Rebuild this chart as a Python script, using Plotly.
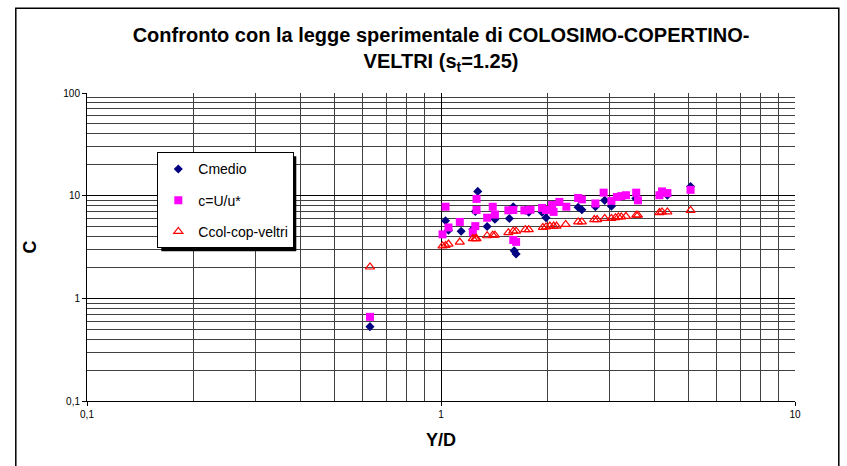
import plotly.graph_objects as go

# ---- data ----
x_cmedio = [0.63, 1.03, 1.05, 1.14, 1.23, 1.25, 1.27, 1.35, 1.42, 1.56, 1.60, 1.61, 1.63,
            1.73, 1.77, 1.93, 1.98, 2.07, 2.44, 2.50, 2.73, 2.90, 3.03, 3.55, 4.36, 5.07]
y_cmedio = [0.53, 5.7, 4.6, 4.5, 4.7, 7.0, 11.0, 5.0, 5.9, 6.0, 7.8, 2.9, 2.7,
            7.2, 6.9, 6.9, 6.1, 8.1, 7.7, 7.3, 7.8, 9.0, 7.9, 9.4, 10.1, 12.3]

x_cu = [0.63, 1.01, 1.03, 1.05, 1.13, 1.23, 1.25, 1.26, 1.26, 1.35, 1.40, 1.42, 1.55, 1.60,
        1.60, 1.63, 1.72, 1.79, 1.93, 1.98, 2.06, 2.08, 2.16, 2.26, 2.44, 2.50, 2.73, 2.88,
        3.03, 3.14, 3.23, 3.33, 3.56, 3.60, 4.14, 4.21, 4.36, 5.07]
y_cu = [0.66, 4.2, 7.8, 4.9, 5.55, 4.4, 5.05, 7.25, 9.3, 6.1, 7.8, 6.55, 7.2, 7.25,
        3.7, 3.55, 7.2, 7.3, 7.6, 7.25, 8.1, 6.95, 8.7, 7.8, 9.5, 9.2, 8.4, 10.7,
        8.9, 9.7, 9.9, 10.1, 10.7, 9.0, 10.1, 11.0, 10.6, 11.4]

x_ccv = [0.63, 1.01, 1.03, 1.05, 1.13, 1.23, 1.25, 1.26, 1.35, 1.40, 1.42, 1.55, 1.60, 1.63,
         1.73, 1.77, 1.94, 1.98, 2.03, 2.08, 2.12, 2.25, 2.44, 2.50, 2.71, 2.76, 2.90, 3.03,
         3.11, 3.17, 3.23, 3.33, 3.56, 3.60, 4.14, 4.21, 4.36, 5.07]
y_ccv = [2.02, 3.24, 3.28, 3.38, 3.53, 3.82, 3.82, 3.82, 4.07, 4.12, 4.12, 4.36, 4.51, 4.51,
         4.66, 4.66, 4.91, 4.96, 5.06, 5.06, 5.06, 5.25, 5.55, 5.55, 5.85, 5.85, 6.0, 6.0,
         6.1, 6.2, 6.2, 6.3, 6.45, 6.45, 6.84, 6.94, 6.94, 7.19]

x_major = [0.1, 1, 10]
x_major_text = ["0,1", "1", "10"]
y_major = [0.1, 1, 10, 100]
y_major_text = ["0,1", "1", "10", "100"]
x_minor = [m * d for d in (0.1, 1) for m in range(2, 10)]
y_minor = [m * d for d in (0.1, 1, 10) for m in range(2, 10)]

FONT = "Liberation Sans, Arial, sans-serif"

fig = go.Figure()
fig.add_trace(go.Scatter(x=x_cmedio, y=y_cmedio, mode="markers", name="Cmedio",
                         legendgroup="a",
                         marker=dict(symbol="diamond", size=7, color="#000080",
                                     line=dict(width=0))))
fig.add_trace(go.Scatter(x=x_cu, y=y_cu, mode="markers", name="c=U/u*",
                         legendgroup="b",
                         marker=dict(symbol="square", size=8, color="#FF00FF",
                                     line=dict(width=0))))
fig.add_trace(go.Scatter(x=x_ccv, y=y_ccv, mode="markers", name="Ccol-cop-veltri",
                         legendgroup="c",
                         marker=dict(symbol="triangle-up-open", size=8, color="#FF0000",
                                     line=dict(width=1.2, color="#FF0000"))))

W, H = 847, 466
L, R, T, B = 86.7, W - 794.7, 92.5, H - 401.2
pw, ph = W - L - R, H - T - B

def px2paper(px, py):
    return (px - L) / pw, (H - B - py) / ph

axis_common = dict(
    type="log", showline=True, linecolor="black", linewidth=1,
    ticks="outside", ticklen=4, tickcolor="black",
    showgrid=True, gridcolor="black", gridwidth=1,
    tickfont=dict(family=FONT, size=10, color="black"),
    zeroline=False, mirror=False,
)

fig.update_xaxes(range=[-1, 1], tickmode="array", tickvals=x_major, ticktext=x_major_text,
                 minor=dict(tickmode="array", tickvals=x_minor, showgrid=True,
                            gridcolor="#404040", gridwidth=1, ticks=""),
                 title=dict(text="<b>Y/D</b>", font=dict(family=FONT, size=18, color="black"),
                            standoff=14),
                 **axis_common)
fig.update_yaxes(range=[-1, 2], tickmode="array", tickvals=y_major, ticktext=y_major_text,
                 minor=dict(tickmode="array", tickvals=y_minor, showgrid=True,
                            gridcolor="#404040", gridwidth=1, ticks=""),
                 title=dict(text="<b>C</b>", font=dict(family=FONT, size=18, color="black"),
                            standoff=22),
                 **axis_common)

# outer chart border
bx0, by0 = px2paper(15.5, 7.5)
bx1, by1 = px2paper(838.5, 480)
fig.add_shape(type="rect", xref="paper", yref="paper", x0=bx0, y0=by1, x1=bx1, y1=by0,
              line=dict(color="black", width=1.5), fillcolor="rgba(0,0,0,0)", layer="above")

# legend shadow
sx0, sy0 = px2paper(161, 156)
sx1, sy1 = px2paper(296, 251)
fig.add_shape(type="rect", xref="paper", yref="paper", x0=sx0, y0=sy1, x1=sx1, y1=sy0,
              line=dict(width=0), fillcolor="black", layer="above")

lx, ly = px2paper(157, 152)
fig.update_layout(
    width=W, height=H,
    margin=dict(l=L, r=R, t=T, b=B),
    paper_bgcolor="white", plot_bgcolor="white",
    font=dict(family=FONT, color="black"),
    title=dict(text="<b>Confronto con la legge sperimentale di COLOSIMO-COPERTINO-<br>"
                    "VELTRI (s<sub>t</sub>=1.25)</b>",
               x=0.5, xref="paper", xanchor="center", y=0.91, yanchor="top",
               font=dict(family=FONT, size=20, color="black")),
    showlegend=True,
    legend=dict(x=lx, y=ly, xanchor="left", yanchor="top",
                bgcolor="white", bordercolor="black", borderwidth=1,
                font=dict(family=FONT, size=14, color="black"),
                tracegroupgap=10, itemwidth=30),
)

fig.write_html("out.html", config={"displayModeBar": False},
               post_script="document.body.style.margin='0';")
